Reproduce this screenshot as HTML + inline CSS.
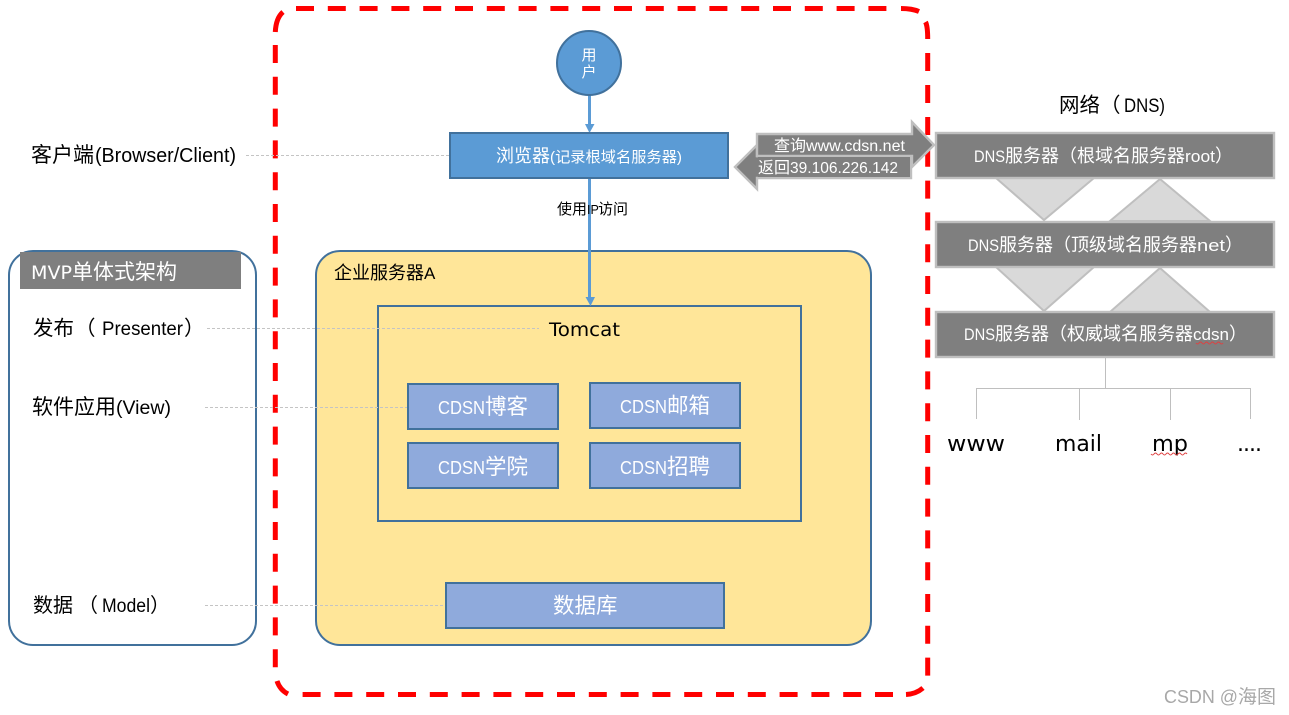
<!DOCTYPE html>
<html><head><meta charset="utf-8"><style>
html,body{margin:0;padding:0;background:#fff;width:1289px;height:715px;overflow:hidden}
svg{display:block}
text{font-family:"Liberation Sans","Noto Sans CJK SC",sans-serif}
.d{font-family:"DejaVu Sans","Noto Sans CJK SC",sans-serif}
.w{fill:#fff}
.c{text-anchor:middle}
.b{fill:#8faadc;stroke:#41719c;stroke-width:2}
.g{fill:#7f7f7f;stroke:#bfbfbf;stroke-width:2.4}
.t{fill:#d9d9d9;stroke:#bfbfbf;stroke-width:2}
.l{stroke:#bfbfbf;stroke-width:1;fill:none}
.da{stroke:#c4c4c4;stroke-width:1;stroke-dasharray:3 2;fill:none}
.r{stroke:#ff0000;stroke-width:5;fill:none;stroke-dasharray:18 13.8}
.s{stroke:#ff0000;stroke-width:5;fill:none}
</style></head><body>
<svg width="1289" height="715" viewBox="0 0 1289 715" xmlns="http://www.w3.org/2000/svg">
<rect width="1289" height="715" fill="#fff"/>
<path class="r" d="M296 8.500H890"/>
<path class="s" d="M901 8.500Q912 8.500 919 11.500"/>
<path class="s" d="M925.500 22Q927.700 26 927.700 39"/>
<path class="s" d="M927.700 53V71M927.700 85V103"/>
<path class="r" d="M927.700 117V676"/>
<path class="s" d="M906 694.500Q916 694 923 688"/>
<path class="r" d="M893 694.500H301"/>
<path class="s" d="M277 681Q280 690 288 694"/>
<path class="r" d="M275.300 45V668"/>
<path class="s" d="M275.300 32Q276 18 283 12"/>

<rect x="9" y="251" width="247" height="394" rx="24" fill="#fff" stroke="#41719c" stroke-width="2"/>
<rect x="20" y="252" width="221" height="37" fill="#7f7f7f"/>
<text x="31" y="279" class="w" font-size="21"><tspan font-size="19" class="d" textLength="41" lengthAdjust="spacingAndGlyphs">MVP</tspan><tspan x="72">单体式架构</tspan></text>
<text x="33" y="335" font-size="20.500">发布<tspan x="75">（</tspan><tspan x="102" font-size="19.500" textLength="81" lengthAdjust="spacingAndGlyphs">Presenter</tspan><tspan x="184">）</tspan></text>
<text x="32" y="414" font-size="21">软件应用<tspan x="116" font-size="19.500" textLength="55" lengthAdjust="spacingAndGlyphs">(View)</tspan></text>
<text x="33" y="612" font-size="20">数据<tspan x="78">（</tspan><tspan x="102" font-size="19.500" textLength="48" lengthAdjust="spacingAndGlyphs">Model</tspan><tspan x="150">）</tspan></text>
<text x="31" y="162" font-size="21">客户端<tspan x="95" font-size="20" textLength="141" lengthAdjust="spacingAndGlyphs">(Browser/Client)</tspan></text>

<rect x="316" y="251" width="555" height="394" rx="24" fill="#ffe699" stroke="#41719c" stroke-width="2"/>
<text x="334" y="279" font-size="18">企业服务器<tspan x="424" font-size="17">A</tspan></text>
<rect x="378" y="306" width="423" height="215" fill="none" stroke="#41719c" stroke-width="2"/>
<text x="549" y="336" class="d" font-size="19" textLength="71" lengthAdjust="spacingAndGlyphs">Tomcat</text>

<path class="da" d="M246 155.500H450"/>
<path class="da" d="M207 328.500H539"/>
<path class="da" d="M205 407.500H408"/>
<path class="da" d="M205 605.500H446"/>

<rect class="b" x="408" y="384" width="150" height="45"/>
<rect class="b" x="590" y="383" width="150" height="45"/>
<rect class="b" x="408" y="443" width="150" height="45"/>
<rect class="b" x="590" y="443" width="150" height="45"/>
<rect class="b" x="446" y="583" width="278" height="45"/>
<g class="w" font-size="21.500">
<text x="438" y="414" class="w"><tspan font-size="18.500" textLength="47" lengthAdjust="spacingAndGlyphs">CDSN</tspan><tspan x="485">博客</tspan></text>
<text x="620" y="413" class="w"><tspan font-size="18.500" textLength="47" lengthAdjust="spacingAndGlyphs">CDSN</tspan><tspan x="667">邮箱</tspan></text>
<text x="438" y="474" class="w"><tspan font-size="18.500" textLength="47" lengthAdjust="spacingAndGlyphs">CDSN</tspan><tspan x="485">学院</tspan></text>
<text x="620" y="474" class="w"><tspan font-size="18.500" textLength="47" lengthAdjust="spacingAndGlyphs">CDSN</tspan><tspan x="667">招聘</tspan></text>
</g>
<text x="553" y="613" class="w" font-size="21.500">数据库</text>

<path d="M589.500 95V125" stroke="#5b9bd5" stroke-width="3"/>
<path d="M585 124H594.500L589.500 133Z" fill="#5b9bd5"/>
<path d="M589.500 178V298" stroke="#5b9bd5" stroke-width="3"/>
<path d="M585.500 297H595L590.500 306Z" fill="#5b9bd5"/>
<circle cx="589" cy="63" r="32" fill="#5b9bd5" stroke="#41719c" stroke-width="2"/>
<text x="589" y="60" class="w c" font-size="15">用</text>
<text x="589" y="77" class="w c" font-size="15">户</text>
<rect x="450" y="133" width="278" height="45" fill="#5b9bd5" stroke="#41719c" stroke-width="2"/>
<text x="496" y="162" class="w" font-size="18">浏览器<tspan x="550" font-size="15" textLength="132" lengthAdjust="spacingAndGlyphs">(记录根域名服务器)</tspan></text>
<text x="557" y="214" font-size="15">使用<tspan font-size="12.500">IP</tspan><tspan x="598">访问</tspan></text>

<path class="t" d="M996 178H1094L1044 220Z"/>
<path class="t" d="M1160 179L1210 221H1110Z"/>
<path class="t" d="M996 267H1094L1044 311Z"/>
<path class="t" d="M1160 268L1210 312H1110Z"/>
<rect class="g" x="936" y="133" width="338" height="45"/>
<rect class="g" x="936" y="222" width="338" height="45"/>
<rect class="g" x="936" y="312" width="338" height="45"/>
<text x="974" y="162" class="w" font-size="18"><tspan font-size="17" textLength="31" lengthAdjust="spacingAndGlyphs">DNS</tspan><tspan x="1005">服务器（根域名服务器</tspan><tspan x="1185" font-size="17" textLength="30" lengthAdjust="spacingAndGlyphs">root</tspan><tspan x="1215">）</tspan></text>
<text x="968" y="251" class="w" font-size="18"><tspan font-size="17" textLength="31" lengthAdjust="spacingAndGlyphs">DNS</tspan><tspan x="999">服务器（顶级域名服务器</tspan><tspan x="1197" font-size="17" textLength="28" lengthAdjust="spacingAndGlyphs">net</tspan><tspan x="1225">）</tspan></text>
<text x="964" y="340" class="w" font-size="18"><tspan font-size="17" textLength="31" lengthAdjust="spacingAndGlyphs">DNS</tspan><tspan x="995">服务器（权威域名服务器</tspan><tspan x="1193" font-size="17" textLength="36" lengthAdjust="spacingAndGlyphs">cdsn</tspan><tspan x="1229">）</tspan></text>
<path d="M1196 343q1.500 2 3 0t3 0 3 0 3 0 3 0 3 0 3 0 3 0 3 0" fill="none" stroke="#e04040" stroke-width="1"/>
<text x="1059" y="112" font-size="20.500">网络（<tspan x="1124" font-size="19" textLength="41" lengthAdjust="spacingAndGlyphs">DNS)</tspan></text>

<path class="g" d="M735 167L757 145V156H911V178H757V189Z"/>
<path class="g" d="M757 134H912V122L934 145L912 167V156H757Z"/>
<path d="M758 157H910V177H758Z" fill="#7f7f7f"/>
<text x="774" y="151" class="w" font-size="16">查询<tspan x="806" font-size="15.500" textLength="99" lengthAdjust="spacingAndGlyphs">www.cdsn.net</tspan></text>
<text x="758" y="173" class="w" font-size="16">返回<tspan x="790" font-size="15.500" textLength="108" lengthAdjust="spacingAndGlyphs">39.106.226.142</tspan></text>

<path class="l" d="M1105.500 357V388.500M976.500 419V388.500H1250.500V419M1079.500 388.500V420M1170.500 388.500V420"/>
<text x="947" y="451" class="d" font-size="22" textLength="58" lengthAdjust="spacingAndGlyphs">www</text>
<text x="1055" y="451" class="d" font-size="22" textLength="47" lengthAdjust="spacingAndGlyphs">mail</text>
<text x="1152" y="451" class="d" font-size="22" textLength="36" lengthAdjust="spacingAndGlyphs">mp</text>
<text x="1237" y="451" class="d" font-size="22" textLength="25">....</text>
<path d="M1151 454q1.500 2 3 0t3 0 3 0 3 0 3 0 3 0 3 0 3 0 3 0 3 0 3 0 3 0" fill="none" stroke="#e04040" stroke-width="1"/>
<text x="1164" y="703" font-size="18.500" fill="#a8a8a8"><tspan textLength="74" lengthAdjust="spacingAndGlyphs">CSDN @</tspan><tspan x="1238" font-size="19">海图</tspan></text>
</svg>
</body></html>
